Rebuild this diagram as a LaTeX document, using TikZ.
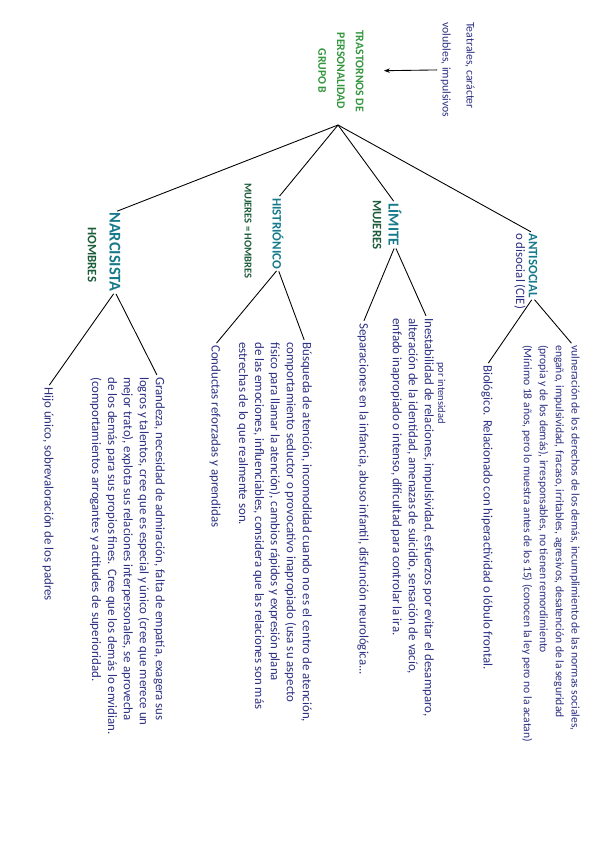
\documentclass[tikz,border=0pt]{standalone}
\usepackage{fontspec}
\setmainfont{Carlito}
\usetikzlibrary{calc,arrows.meta}
\definecolor{ink}{RGB}{45,48,130}
\definecolor{labteal}{RGB}{22,122,138}
\definecolor{subgreen}{RGB}{28,92,58}
\definecolor{titgreen}{RGB}{52,150,62}
\begin{document}
\begin{tikzpicture}[x=0.03cm,y=0.03cm,rotate=-90,transform shape,
  txt/.style={inner sep=0pt,align=left,text=ink,font=\fontsize{11}{13.6}\selectfont},
  lab/.style={inner sep=0pt,anchor=west,text=labteal,font=\fontsize{11}{13}\selectfont\bfseries},
  sub/.style={inner sep=0pt,anchor=west,text=subgreen,font=\fontsize{11}{13}\selectfont\bfseries},
  link/.style={line width=0.75pt}]
\useasboundingbox (0,0) rectangle (848,599);
% title and note
\node[inner sep=0pt,align=center,text=titgreen,font=\fontsize{10}{16}\selectfont\bfseries] (title) at (71,341) {TRASTORNOS DE\\PERSONALIDAD\\GRUPO B};
\node[txt,anchor=north west,font=\fontsize{10}{20.4}\selectfont] (note) at (22,475) {Teatrales, carácter\\volubles, impulsivos};
\draw[link,-{Stealth[length=5pt]},shorten <=3pt,shorten >=0.6cm] (note.south) -- (title.north);
\coordinate (root) at (125,338);
% antisocial
\node[lab] (antname) at (233,533) {ANTISOCIAL};
\node[txt,anchor=west] (antalt) at (233,520) {o disocial (CIE)};
\node[txt,anchor=north west,font=\fontsize{9.9}{13.6}\selectfont] (antdesc) at (345,580) {vulneración de los derechos de los demás, incumplimiento de las normas sociales,\\
engaño, impulsividad, fracaso, irritables, agresivos, desatención de la seguridad\\
(propia y de los demás), irresponsables, no tienen remordimiento\\
(Mínimo 18 años, pero lo muestra antes de los 15) (conocen la ley pero no la acatan)};
\node[txt,anchor=west] (antbio) at (365,487) {Biológico. Relacionado con hiperactividad o lóbulo frontal.};
% limite
\node[lab,font=\fontsize{13}{15}\selectfont\bfseries] (limname) at (203,395) {LÍMITE};
\node[sub] (limsex) at (200,377) {MUJERES};
\node[txt,anchor=west,font=\fontsize{9}{10}\selectfont] (limnote) at (362,441) {por intensidad};
\node[txt,anchor=north west] (limdesc) at (318,434) {Inestabilidad de relaciones, impulsividad, esfuerzos por evitar el desamparo,\\
alteración de la identidad, amenazas de suicidio, sensación de vacío,\\
enfado inapropiado o intenso, dificultad para controlar la ira.};
\node[txt,anchor=west] (limsep) at (323,363) {Separaciones en la infancia, abuso infantil, disfunción neurológica...};
% histrionico
\node[lab] (hisname) at (198,278) {HISTRIÓNICO};
\node[sub,font=\fontsize{9}{11}\selectfont\bfseries] (hissex) at (183,248) {MUJERES = HOMBRES};
\node[txt,anchor=north west] (hisdesc) at (342,312) {Búsqueda de atención, incomodidad cuando no es el centro de atención,\\
comportamiento seductor o provocativo inapropiado (usa su aspecto\\
físico para llamar la atención), cambios rápidos y expresión plana\\
de las emociones, influenciables, considera que las relaciones son más\\
estrechas de lo que realmente son.};
\node[txt,anchor=west] (hisrein) at (345,215) {Conductas reforzadas y aprendidas};
% narcisista
\node[lab,font=\fontsize{14}{16}\selectfont\bfseries] (narname) at (212,115) {NARCISISTA};
\node[sub] (narsex) at (227,92) {HOMBRES};
\node[txt,anchor=north west] (nardesc) at (377,165) {Grandeza, necesidad de admiración, falta de empatía, exagera sus\\
logros y talentos, cree que es especial y único (cree que merece un\\
mejor trato), explota sus relaciones interpersonales, se aprovecha\\
de los demás para sus propios fines. Cree que los demás lo envidian.\\
(comportamientos arrogantes y actitudes de superioridad.};
\node[txt,anchor=west] (narhijo) at (387,48) {Hijo único, sobrevaloración de los padres};
% branches
\draw[link,shorten >=2pt] (root) -- (antname.west);
\draw[link,shorten >=2pt] (root) -- (limname.west);
\draw[link,shorten >=2pt] (root) -- (hisname.west);
\draw[link,shorten >=2pt] (root) -- (narname.west);
\draw[link,shorten <=2pt,shorten >=2pt] (antname.east) -- ($(antdesc.north west)!6pt!(antdesc.south west)$);
\draw[link,shorten <=2pt,shorten >=2pt] (antname.east) -- (antbio.west);
\draw[link,shorten <=2pt,shorten >=2pt] (limname.east) -- ($(limdesc.north west)!6pt!(limdesc.south west)$);
\draw[link,shorten <=2pt,shorten >=2pt] (limname.east) -- (limsep.west);
\draw[link,shorten <=2pt,shorten >=2pt] (hisname.east) -- ($(hisdesc.north west)!6pt!(hisdesc.south west)$);
\draw[link,shorten <=2pt,shorten >=2pt] (hisname.east) -- (hisrein.west);
\draw[link,shorten <=2pt,shorten >=2pt] (narname.east) -- ($(nardesc.north west)!6pt!(nardesc.south west)$);
\draw[link,shorten <=2pt,shorten >=2pt] (narname.east) -- (narhijo.west);
\end{tikzpicture}
\end{document}
